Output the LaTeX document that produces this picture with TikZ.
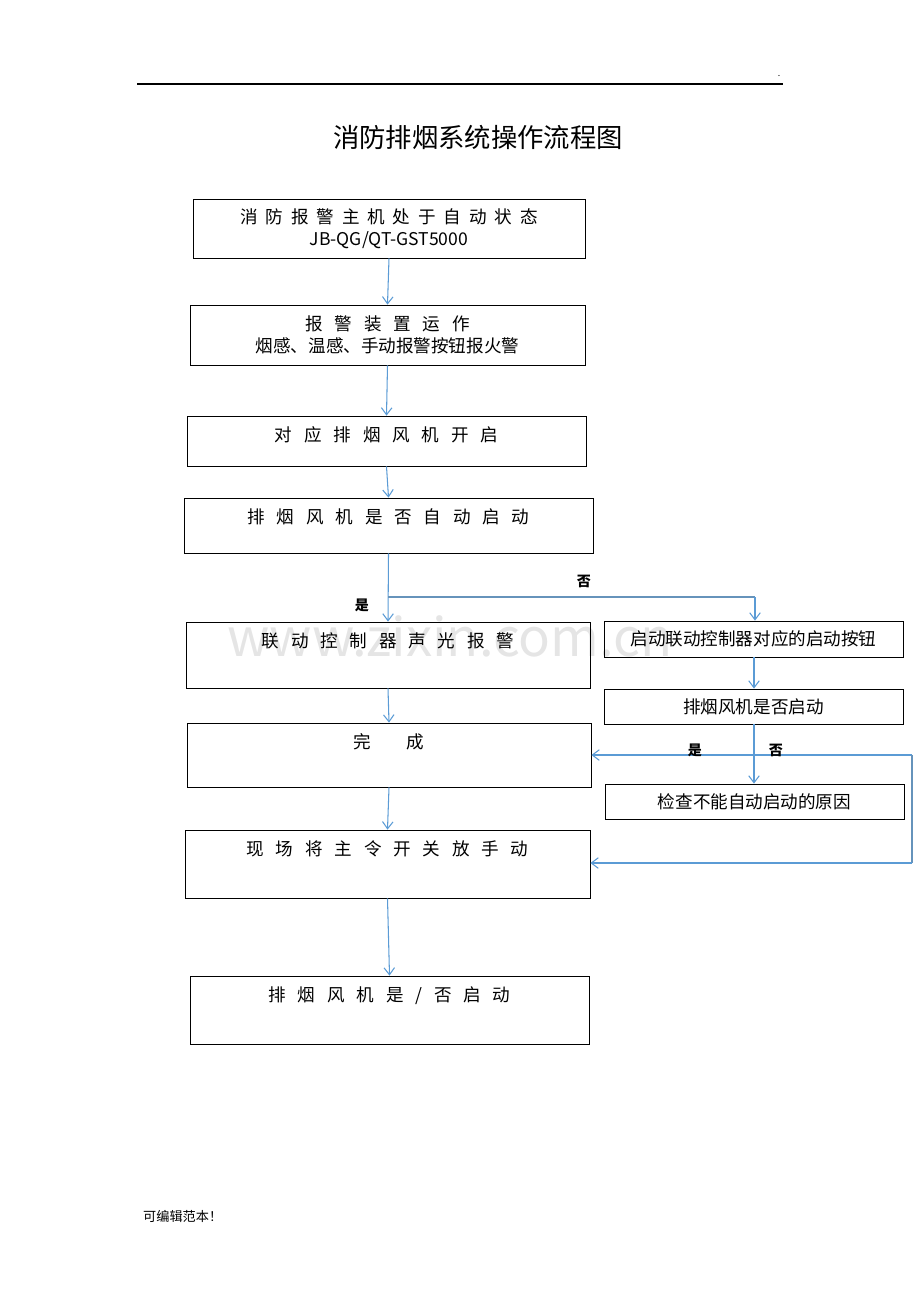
\documentclass[tikz,border=0pt]{standalone}
\usepackage{fontspec}
\setmainfont{Noto Sans CJK SC}
\usetikzlibrary{arrows.meta}
\definecolor{lineblue}{HTML}{5B9BD5}
\tikzset{
  box/.style={draw, line width=0.45pt, inner sep=0pt},
  txt/.style={font=\fontsize{10}{12.5}\selectfont, anchor=north, inner sep=0pt, align=center},
  flow/.style={draw=lineblue, line width=0.6pt, -{Straight Barb[length=4pt,width=6pt]}},
  link/.style={draw=lineblue!70!gray, line width=0.6pt},
  lab/.style={font=\fontsize{8}{10}\selectfont\bfseries},
}
% box from (x1,y1) to (x2,y2) in pixels
\newcommand{\flowbox}[5]{%
  \node[box, minimum width={(#4-#2)*0.02cm}, minimum height={(#5-#3)*0.02cm}]
    (#1) at ({(#2+#4)/2},{(#3+#5)/2}) {};}
\begin{document}
\begin{tikzpicture}[x=0.02cm,y=-0.02cm]
    \useasboundingbox (0,0) rectangle (920,1302);

    \draw[line width=0.6pt](137,84)--(783,84);
    \node[font=\tiny] at (779,76) {.};
    \node[font=\fontsize{15}{18}\selectfont] (title) at (478,137) {消防排烟系统操作流程图};
    \node[text=gray!20, font=\fontsize{30}{30}\selectfont] (wm) at (450,636) {www.zixin.com.cn};

    % main column
    \flowbox{start}{193}{199}{585}{258}
    \node[txt] at ([yshift=-0.2cm]start.north) {消~~防~~报~~警~~主~~机~~处~~于~~自~~动~~状~~态\\JB-QG/QT-GST5000};
    \flowbox{alarm}{190}{305}{585}{365}
    \node[txt] at ([yshift=-0.22cm]alarm.north) {报~~~警~~~装~~~置~~~运~~~作\\烟感、温感、手动报警按钮报火警};
    \flowbox{fan}{187}{416}{586}{466}
    \node[txt] at ([yshift=-0.22cm]fan.north) {对~~~应~~~排~~~烟~~~风~~~机~~~开~~~启};
    \flowbox{auto}{184}{498}{593}{553}
    \node[txt] at ([yshift=-0.22cm]auto.north) {排~~~烟~~~风~~~机~~~是~~~否~~~自~~~动~~~启~~~动};
    \flowbox{sound}{186}{622}{590}{688}
    \node[txt] at ([yshift=-0.22cm]sound.north) {联~~~动~~~控~~~制~~~器~~~声~~~光~~~报~~~警};
    \flowbox{done}{187}{723}{591}{787}
    \node[txt] at ([yshift=-0.22cm]done.north) {完\hspace{2em}成};
    \flowbox{manual}{185}{830}{590}{898}
    \node[txt] at ([yshift=-0.22cm]manual.north) {现~~~场~~~将~~~主~~~令~~~开~~~关~~~放~~~手~~~动};
    \flowbox{final}{190}{976}{589}{1044}
    \node[txt] at ([yshift=-0.22cm]final.north) {排~~~烟~~~风~~~机~~~是~~~/~~~否~~~启~~~动};

    % right column
    \flowbox{button}{604}{621}{903}{657}
    \node[txt] at ([yshift=-0.2cm]button.north) {启动联动控制器对应的启动按钮};
    \flowbox{check}{604}{689}{903}{724}
    \node[txt] at ([yshift=-0.2cm]check.north) {排烟风机是否启动};
    \flowbox{cause}{605}{784}{904}{819}
    \node[txt] at ([yshift=-0.2cm]cause.north) {检查不能自动启动的原因};

    % connectors
    \draw[flow](start.south)--(alarm.north);
    \draw[flow](alarm.south)--(fan.north);
    \draw[flow](fan.south)--(auto.north);
    \draw[flow](auto.south)--(sound.north);
    \draw[flow](sound.south)--(done.north);
    \draw[flow](done.south)--(manual.north);
    \draw[flow](manual.south)--(final.north);
    \coordinate (split) at (388,597);
    \coordinate (splitR) at (755,597);
    \draw[link](split)--(splitR);
    \draw[flow](splitR)--(splitR|-button.north);
    \draw[flow](button.south-|754,0)--(check.north-|754,0);
    \draw[flow](check.south-|754,0)--(cause.north-|754,0);
    \coordinate (backT) at (912,755);
    \coordinate (backB) at (912,863);
    \draw[flow](backT)--(done.east|-backT);
    \draw[link](backT)--(backB);
    \draw[flow](backB)--(manual.east|-backB);

    \node[lab] (no1) at (584,581) {否};
    \node[lab] (yes1) at (362,605) {是};
    \node[lab] (yes2) at (695,750) {是};
    \node[lab] (no2) at (776,750) {否};

    \node[font=\fontsize{7.5}{9}\selectfont, anchor=west] (foot) at (137,1216) {可编辑范本！};
\end{tikzpicture}
\end{document}
